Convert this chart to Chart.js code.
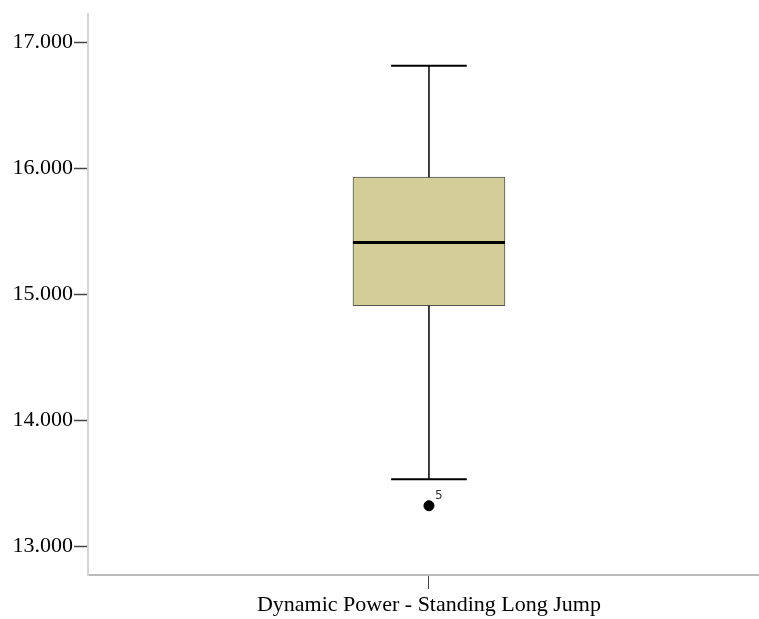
<!DOCTYPE html>
<html>
<head>
<meta charset="utf-8">
<script src="https://cdn.jsdelivr.net/npm/chart.js@4"></script>
<style>
  html, body { margin: 0; padding: 0; background: #fff; overflow: hidden; }
  #wrap { width: 759px; height: 619px; }
</style>
</head>
<body>
<div id="wrap"><canvas id="chart"></canvas></div>
<script>
// data
const categories = ['Dynamic Power - Standing Long Jump'];
const whiskerLow = [13.53];
const q1 = [14.91];
const median = [15.41];
const q3 = [15.93];
const whiskerHigh = [16.815];
const outliers = [13.32];
const outlierCases = ['5'];
const yTicks = [13, 14, 15, 16, 17];

// layout bits
const boxPx = 152;
const capHalf = 0.111;
const boxHalf = 0.223;
const serif = "'Liberation Serif', 'Times New Roman', serif";

const ctx = document.getElementById('chart').getContext('2d');

const outlierLabels = {
  id: 'outlierLabels',
  afterDatasetsDraw(chart) {
    const xs = chart.scales.x, ys = chart.scales.y;
    const c = chart.ctx;
    c.save();
    c.fillStyle = '#333';
    c.font = "12px 'DejaVu Sans', sans-serif";
    c.textAlign = 'left';
    c.textBaseline = 'middle';
    outliers.forEach((v, i) => {
      c.fillText(outlierCases[i], xs.getPixelForValue(0) + 6, ys.getPixelForValue(v) - 10);
    });
    c.restore();
  }
};

const line = (pts, w) => ({
  type: 'line',
  data: pts,
  borderColor: '#000',
  borderWidth: w,
  pointRadius: 0,
  fill: false,
  order: 1
});

new Chart(ctx, {
  data: {
    datasets: [
      {
        type: 'bar',
        data: [{ x: 0, y: [q1[0], q3[0]] }],
        backgroundColor: 'rgb(211, 206, 152)',
        borderColor: '#555',
        borderWidth: 1,
        borderSkipped: false,
        barThickness: boxPx,
        order: 2
      },
      line([{ x: 0, y: q3[0] }, { x: 0, y: whiskerHigh[0] }], 1.5),
      line([{ x: -capHalf, y: whiskerHigh[0] }, { x: capHalf, y: whiskerHigh[0] }], 2),
      line([{ x: 0, y: q1[0] }, { x: 0, y: whiskerLow[0] }], 1.5),
      line([{ x: -capHalf, y: whiskerLow[0] }, { x: capHalf, y: whiskerLow[0] }], 2),
      line([{ x: -boxHalf, y: median[0] }, { x: boxHalf, y: median[0] }], 3),
      {
        type: 'scatter',
        data: outliers.map(v => ({ x: 0, y: v })),
        pointRadius: 5,
        backgroundColor: '#000',
        borderColor: '#000',
        order: 0
      }
    ]
  },
  options: {
    responsive: true,
    maintainAspectRatio: false,
    animation: false,
    layout: { autoPadding: false, padding: { top: 11, left: 0, right: 0, bottom: 0 } },
    plugins: {
      legend: { display: false },
      tooltip: { enabled: false }
    },
    scales: {
      x: {
        type: 'linear',
        min: -1,
        max: 0.968,
        offset: false,
        afterBuildTicks: s => { s.ticks = [{ value: 0 }]; },
        afterFit: s => { s.height = 44; },
        ticks: {
          callback: () => categories[0],
          color: '#000',
          font: { family: serif, size: 22 },
          padding: 3,
          maxRotation: 0
        },
        grid: { offset: false, drawOnChartArea: false, tickLength: 14, tickColor: '#444', tickWidth: 1 },
        border: { color: '#bbb', width: 2 }
      },
      y: {
        min: 12.77,
        max: 17.224,
        afterBuildTicks: s => { s.ticks = yTicks.map(v => ({ value: v })); },
        afterFit: s => { s.width = 88; },
        ticks: {
          callback: v => v.toFixed(3),
          color: '#000',
          font: { family: serif, size: 22 },
          padding: 1
        },
        grid: { drawOnChartArea: false, tickLength: 14, tickColor: '#444', tickWidth: 1.5 },
        border: { color: '#d4d4d4', width: 2 }
      }
    }
  },
  plugins: [outlierLabels]
});
</script>
</body>
</html>
